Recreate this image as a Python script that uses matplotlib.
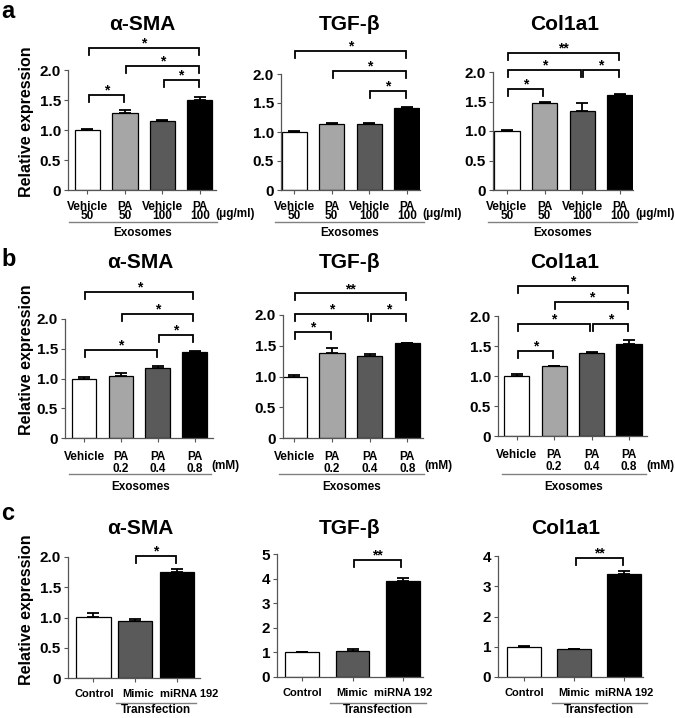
import numpy as np
import matplotlib
matplotlib.use('Agg')
import matplotlib.pyplot as plt
import matplotlib.transforms as mtransforms

plt.rcParams['font.family'] = ['Liberation Sans', 'DejaVu Sans']
plt.rcParams['font.weight'] = 'bold'

W, H = 675, 718  # figure size in pixels

# ---- data ----
genes = ['α-SMA', 'TGF-β', 'Col1a1']

a_labels = ['Vehicle\n50', 'PA\n50', 'Vehicle\n100', 'PA\n100']
a_means = [[1.00, 1.28, 1.15, 1.50],
           [1.00, 1.14, 1.14, 1.42],
           [1.00, 1.48, 1.34, 1.61]]
a_errs = [[0.01, 0.05, 0.02, 0.05],
          [0.02, 0.01, 0.02, 0.01],
          [0.01, 0.02, 0.13, 0.02]]
a_sig = [[(0, 1, 1.58, '*'), (2, 3, 1.83, '*'), (1, 3, 2.07, '*'), (0, 3, 2.36, '*')],
         [(2, 3, 1.70, '*'), (1, 3, 2.05, '*'), (0, 3, 2.40, '*')],
         [(0, 1, 1.71, '*'), (0, 2, 2.03, '*'), (2, 3, 2.03, '*'), (0, 3, 2.33, '**')]]

b_labels = ['Vehicle', 'PA\n0.2', 'PA\n0.4', 'PA\n0.8']
b_means = [[1.00, 1.05, 1.18, 1.45],
           [1.00, 1.39, 1.34, 1.54],
           [1.00, 1.16, 1.39, 1.54]]
b_errs = [[0.03, 0.04, 0.03, 0.01],
          [0.03, 0.08, 0.02, 0.01],
          [0.03, 0.005, 0.01, 0.06]]
b_sig = [[(0, 2, 1.48, '*'), (2, 3, 1.73, '*'), (1, 3, 2.09, '*'), (0, 3, 2.45, '*')],
         [(0, 1, 1.72, '*'), (0, 2, 2.02, '*'), (2, 3, 2.02, '*'), (0, 3, 2.35, '**')],
         [(0, 1, 1.41, '*'), (0, 2, 1.86, '*'), (2, 3, 1.86, '*'), (1, 3, 2.24, '*'), (0, 3, 2.50, '*')]]

c_labels = ['Control', 'Mimic', 'miRNA 192']
c_means = [[1.01, 0.94, 1.75],
           [1.00, 1.06, 3.91],
           [1.00, 0.93, 3.39]]
c_errs = [[0.06, 0.04, 0.05],
          [0.03, 0.06, 0.13],
          [0.01, 0.01, 0.12]]
c_sig = [[(1, 2, 2.01, '*')],
         [(1, 2, 4.77, '**')],
         [(1, 2, 3.93, '**')]]

ab_colors = ['white', '#a6a6a6', '#5a5a5a', 'black']
c_colors = ['white', '#5a5a5a', 'black']

# ---- layout (pixels: left, top, right, bottom) and x limits ----
a_rects = [(68, 70, 216, 190, -0.52, 3.43), (281, 74, 420, 190, -0.35, 3.35), (493, 72, 633, 190, -0.37, 3.35)]
b_rects = [(65, 319, 213, 438, -0.52, 3.50), (283, 315, 423, 438, -0.30, 3.42), (498, 316, 647, 436, -0.50, 3.48)]
c_rects = [(68, 557, 200, 678, -0.60, 2.55), (277, 554, 423, 677, -0.50, 2.40), (498, 556, 643, 677, -0.52, 2.38)]

LBL = 8.5  # category label size

fig = plt.figure(figsize=(W / 100, H / 100), dpi=100)


def yfrac(rect, py):
    left, top, right, bottom = rect[:4]
    return (bottom - py) / (bottom - top)


def draw_panel(rect, labels, means, errs, colors, width, sigs, ymax, yticks, yticklabels,
               lspacing, pad, lsize=LBL):
    left, top, right, bottom, x0, x1 = rect
    ax = fig.add_axes([left / W, 1 - bottom / H, (right - left) / W, (bottom - top) / H])
    x = np.arange(len(means))
    ax.bar(x, means, width=width, color=colors, edgecolor='black', linewidth=0.9, zorder=2)
    ax.errorbar(x, means, yerr=[np.zeros(len(errs)), errs], fmt='none', ecolor='black',
                elinewidth=1.3, capsize=4.2, capthick=1.3, zorder=3)
    ax.set_xlim(x0, x1)
    ax.set_ylim(0, ymax)
    ax.set_yticks(yticks)
    ax.set_yticklabels(yticklabels, fontsize=11, fontweight='bold')
    ax.set_xticks(x)
    ax.set_xticklabels(labels, fontsize=lsize, fontweight='bold')
    for t in ax.get_xticklabels():
        t.set_linespacing(lspacing)
    ax.tick_params(axis='x', length=3, width=0.8, pad=pad, color='#555555')
    ax.tick_params(axis='y', length=3, width=0.8, pad=2, color='#555555')
    for s in ['top', 'right']:
        ax.spines[s].set_visible(False)
    for s in ['left', 'bottom']:
        ax.spines[s].set_color('#555555')
        ax.spines[s].set_linewidth(0.9)

    # significance brackets
    d = 7 * ymax / (bottom - top)
    for i, j, h, star in sigs:
        xa, xb = i + 0.03, j - 0.03
        ax.plot([xa, xa, xb, xb], [h - d, h, h, h - d], color='black', lw=1.3,
                clip_on=False, solid_joinstyle='miter', zorder=4)
        ax.text((i + j) / 2, h + 0.5 * ymax / (bottom - top), star, ha='center', va='baseline',
                fontsize=10, fontweight='bold', clip_on=False)
    return ax


def group_line(ax, rect, xa, xb, py_line, py_text, text):
    trans = ax.get_xaxis_transform()
    ax.plot([xa, xb], [yfrac(rect, py_line)] * 2, color='#808080', lw=1.0,
            transform=trans, clip_on=False)
    ax.text((xa + xb) / 2, yfrac(rect, py_text), text, transform=trans, ha='center',
            va='center', fontsize=LBL, fontweight='bold')


ab_ticks = [0, 0.5, 1.0, 1.5, 2.0]
ab_ticklabels = ['0', '0.5', '1.0', '1.5', '2.0']

for k in range(3):
    ax = draw_panel(a_rects[k], a_labels, a_means[k], a_errs[k], ab_colors, 0.67, a_sig[k],
                    2.0, ab_ticks, ab_ticklabels, 0.7, 5)
    ax.text(3.40, yfrac(a_rects[k], 214), '(μg/ml)', transform=ax.get_xaxis_transform(),
            ha='left', va='center', fontsize=LBL, fontweight='bold')
    group_line(ax, a_rects[k], -0.5, 3.45, 222, 233, 'Exosomes')

for k in range(3):
    ax = draw_panel(b_rects[k], b_labels, b_means[k], b_errs[k], ab_colors, 0.67, b_sig[k],
                    2.0, ab_ticks, ab_ticklabels, 1.1, 6)
    ax.text(3.45, yfrac(b_rects[k], 466), '(mM)', transform=ax.get_xaxis_transform(),
            ha='left', va='center', fontsize=LBL, fontweight='bold')
    group_line(ax, b_rects[k], -0.4, 3.45, 474, 487, 'Exosomes')

c_ylims = [2.0, 5, 4]
c_ticks = [ab_ticks, [0, 1, 2, 3, 4, 5], [0, 1, 2, 3, 4]]
c_ticklabels = [ab_ticklabels, ['0', '1', '2', '3', '4', '5'], ['0', '1', '2', '3', '4']]
c_widths = [0.83, 0.67, 0.68]
for k in range(3):
    ax = draw_panel(c_rects[k], c_labels, c_means[k], c_errs[k], c_colors, c_widths[k], c_sig[k],
                    c_ylims[k], c_ticks[k], c_ticklabels[k], 1.0, 5, lsize=8)
    group_line(ax, c_rects[k], 0.55, 2.45, 703, 710, 'Transfection')
    if k == 0:
        # labels in the narrow panel sit a little to the right of their bars
        for t, dx in zip(ax.get_xticklabels(), [1, 3, 12]):
            t.set_transform(t.get_transform() +
                            mtransforms.ScaledTranslation(dx / 100, 0, fig.dpi_scale_trans))

# titles
title_pos = [(142, 25), (350, 25), (565, 25),
             (140, 262), (350, 262), (565, 262),
             (140, 528), (350, 528), (566, 528)]
for n, (px, py) in enumerate(title_pos):
    fig.text(px / W, 1 - py / H, genes[n % 3], ha='center', va='center', fontsize=15,
             fontweight='bold')

# y labels
for py in [122, 360, 610]:
    fig.text(27 / W, 1 - py / H, 'Relative expression', rotation=90, ha='center',
             va='center', fontsize=11.5, fontweight='bold')

# panel letters
for letter, py in [('a', 0), ('b', 248), ('c', 502)]:
    fig.text(1 / W, 1 - py / H, letter, ha='left', va='top', fontsize=17, fontweight='bold')

fig.savefig('out.png', dpi=100)
